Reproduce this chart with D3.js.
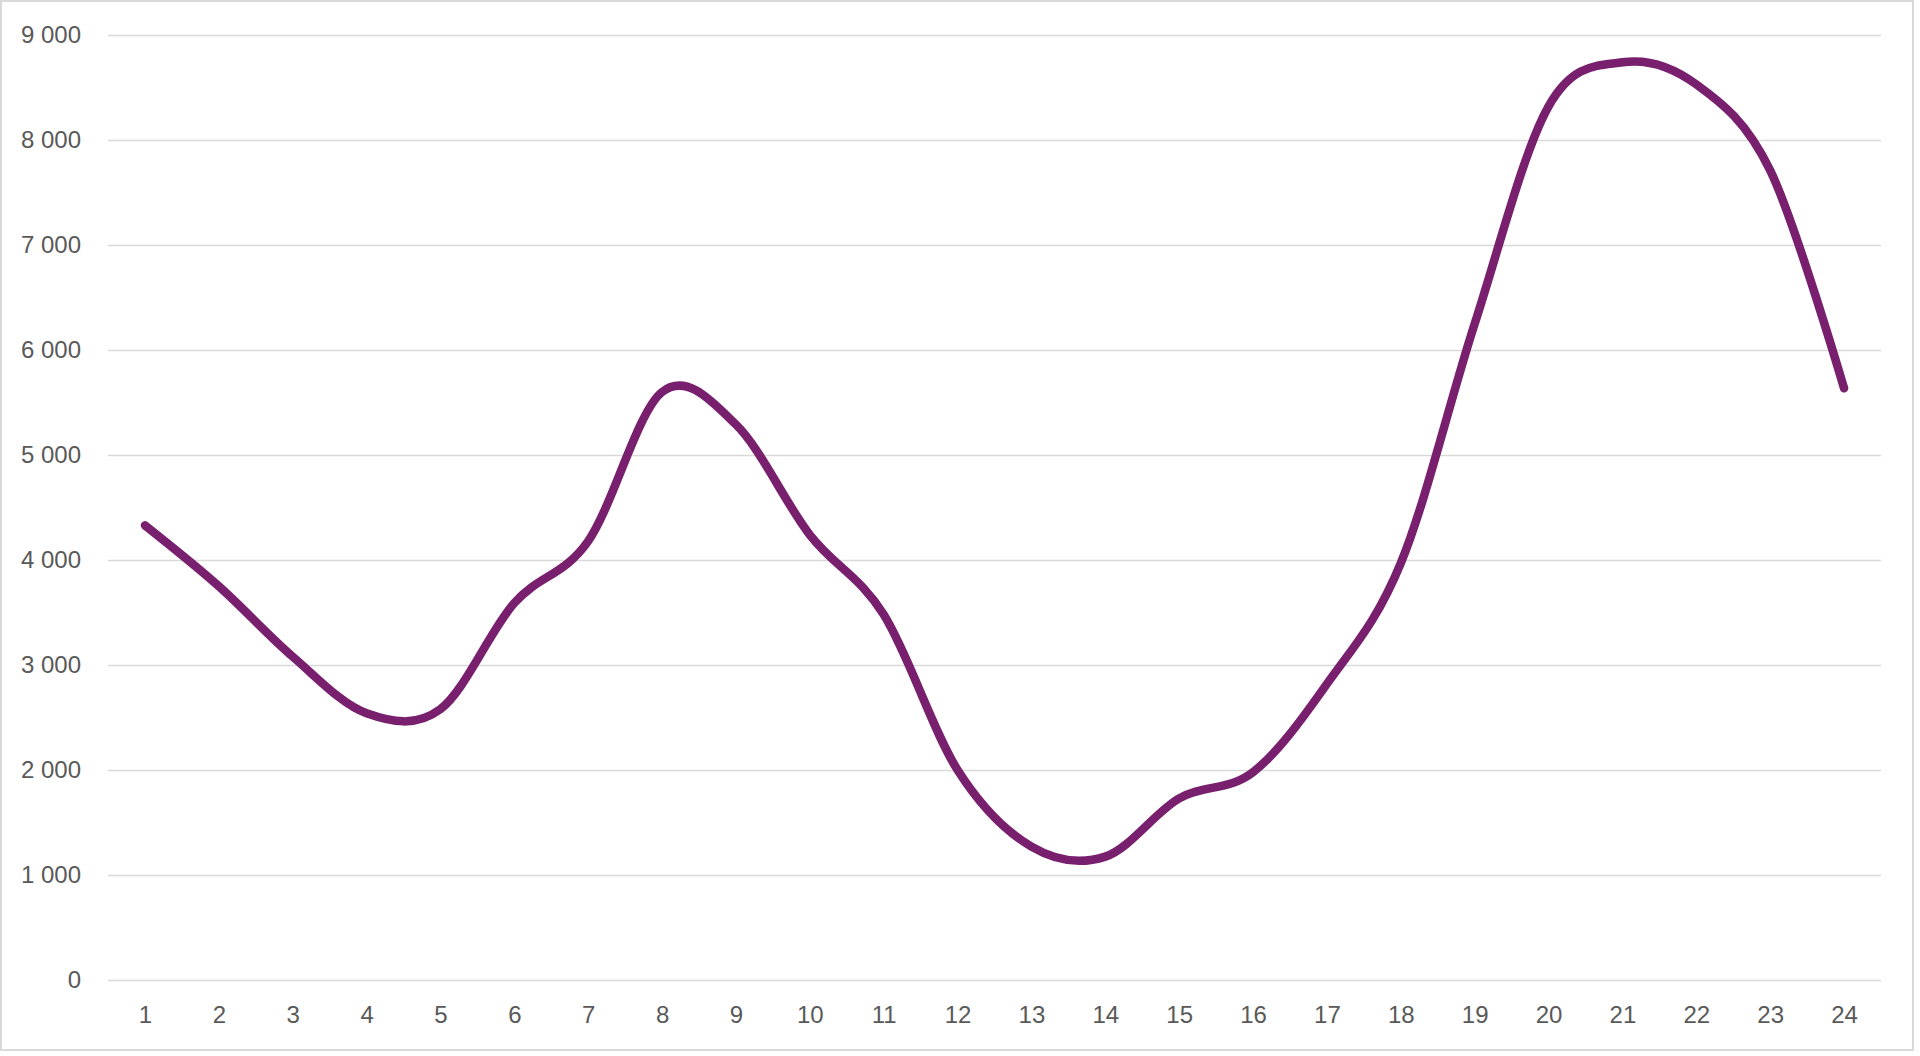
<!DOCTYPE html>
<html>
<head>
<meta charset="utf-8">
<script src="https://cdn.jsdelivr.net/npm/d3@7"></script>
<style>
  html, body { margin: 0; padding: 0; background: #ffffff; }
  svg { display: block; }
</style>
</head>
<body>
<svg id="chart" width="1920" height="1056"></svg>
<script>
const categories = ["1","2","3","4","5","6","7","8","9","10","11","12","13","14","15","16","17","18","19","20","21","22","23","24"];
const values = [4330, 3750, 3080, 2540, 2580, 3590, 4180, 5600, 5290, 4240, 3480, 2000, 1270, 1175, 1730, 1980, 2820, 3970, 6250, 8320, 8740, 8530, 7710, 5635];
const yTicks = [0, 1000, 2000, 3000, 4000, 5000, 6000, 7000, 8000, 9000];

(function () {
  const svg = d3.select("#chart");
  const W = 1920, H = 1056;
  const plotLeft = 108, plotRight = 1881, plotTop = 35, plotBottom = 980;

  const fmt = d3.formatLocale({decimal: ",", thousands: "\u00a0", grouping: [3], currency: ["", ""]}).format(",d");

  svg.append("rect")
    .attr("x", 1).attr("y", 1)
    .attr("width", W - 8).attr("height", H - 7)
    .attr("fill", "#ffffff")
    .attr("stroke", "#d9d9d9").attr("stroke-width", 2);

  const x = d3.scalePoint().domain(categories).range([plotLeft, plotRight]).padding(0.5);
  const y = d3.scaleLinear().domain([0, 9000]).range([plotBottom, plotTop]);

  const fontFamily = "'Liberation Sans', Arial, Helvetica, sans-serif";

  const yAxis = svg.append("g")
    .attr("transform", `translate(${plotLeft},0)`)
    .call(d3.axisLeft(y).tickValues(yTicks).tickFormat(fmt)
          .tickSizeInner(-(plotRight - plotLeft)).tickSizeOuter(0).tickPadding(27));
  yAxis.select(".domain").remove();
  yAxis.selectAll(".tick line").attr("stroke", "#d9d9d9").attr("stroke-width", 1.4);
  yAxis.selectAll(".tick text")
    .attr("fill", "#595959")
    .style("font-family", fontFamily)
    .style("font-size", "24px");

  const xAxis = svg.append("g")
    .attr("transform", `translate(0,${plotBottom})`)
    .call(d3.axisBottom(x).tickSize(0).tickPadding(26));
  xAxis.select(".domain").remove();
  xAxis.selectAll(".tick text")
    .attr("fill", "#595959")
    .style("font-family", fontFamily)
    .style("font-size", "24px");

  const line = d3.line()
    .x((d, i) => x(categories[i]))
    .y(d => y(d))
    .curve(d3.curveCatmullRom.alpha(0));

  svg.append("path")
    .datum(values)
    .attr("d", line)
    .attr("fill", "none")
    .attr("stroke", "#78206E")
    .attr("stroke-width", 8.5)
    .attr("stroke-linecap", "round")
    .attr("stroke-linejoin", "round");
})();
</script>
</body>
</html>
